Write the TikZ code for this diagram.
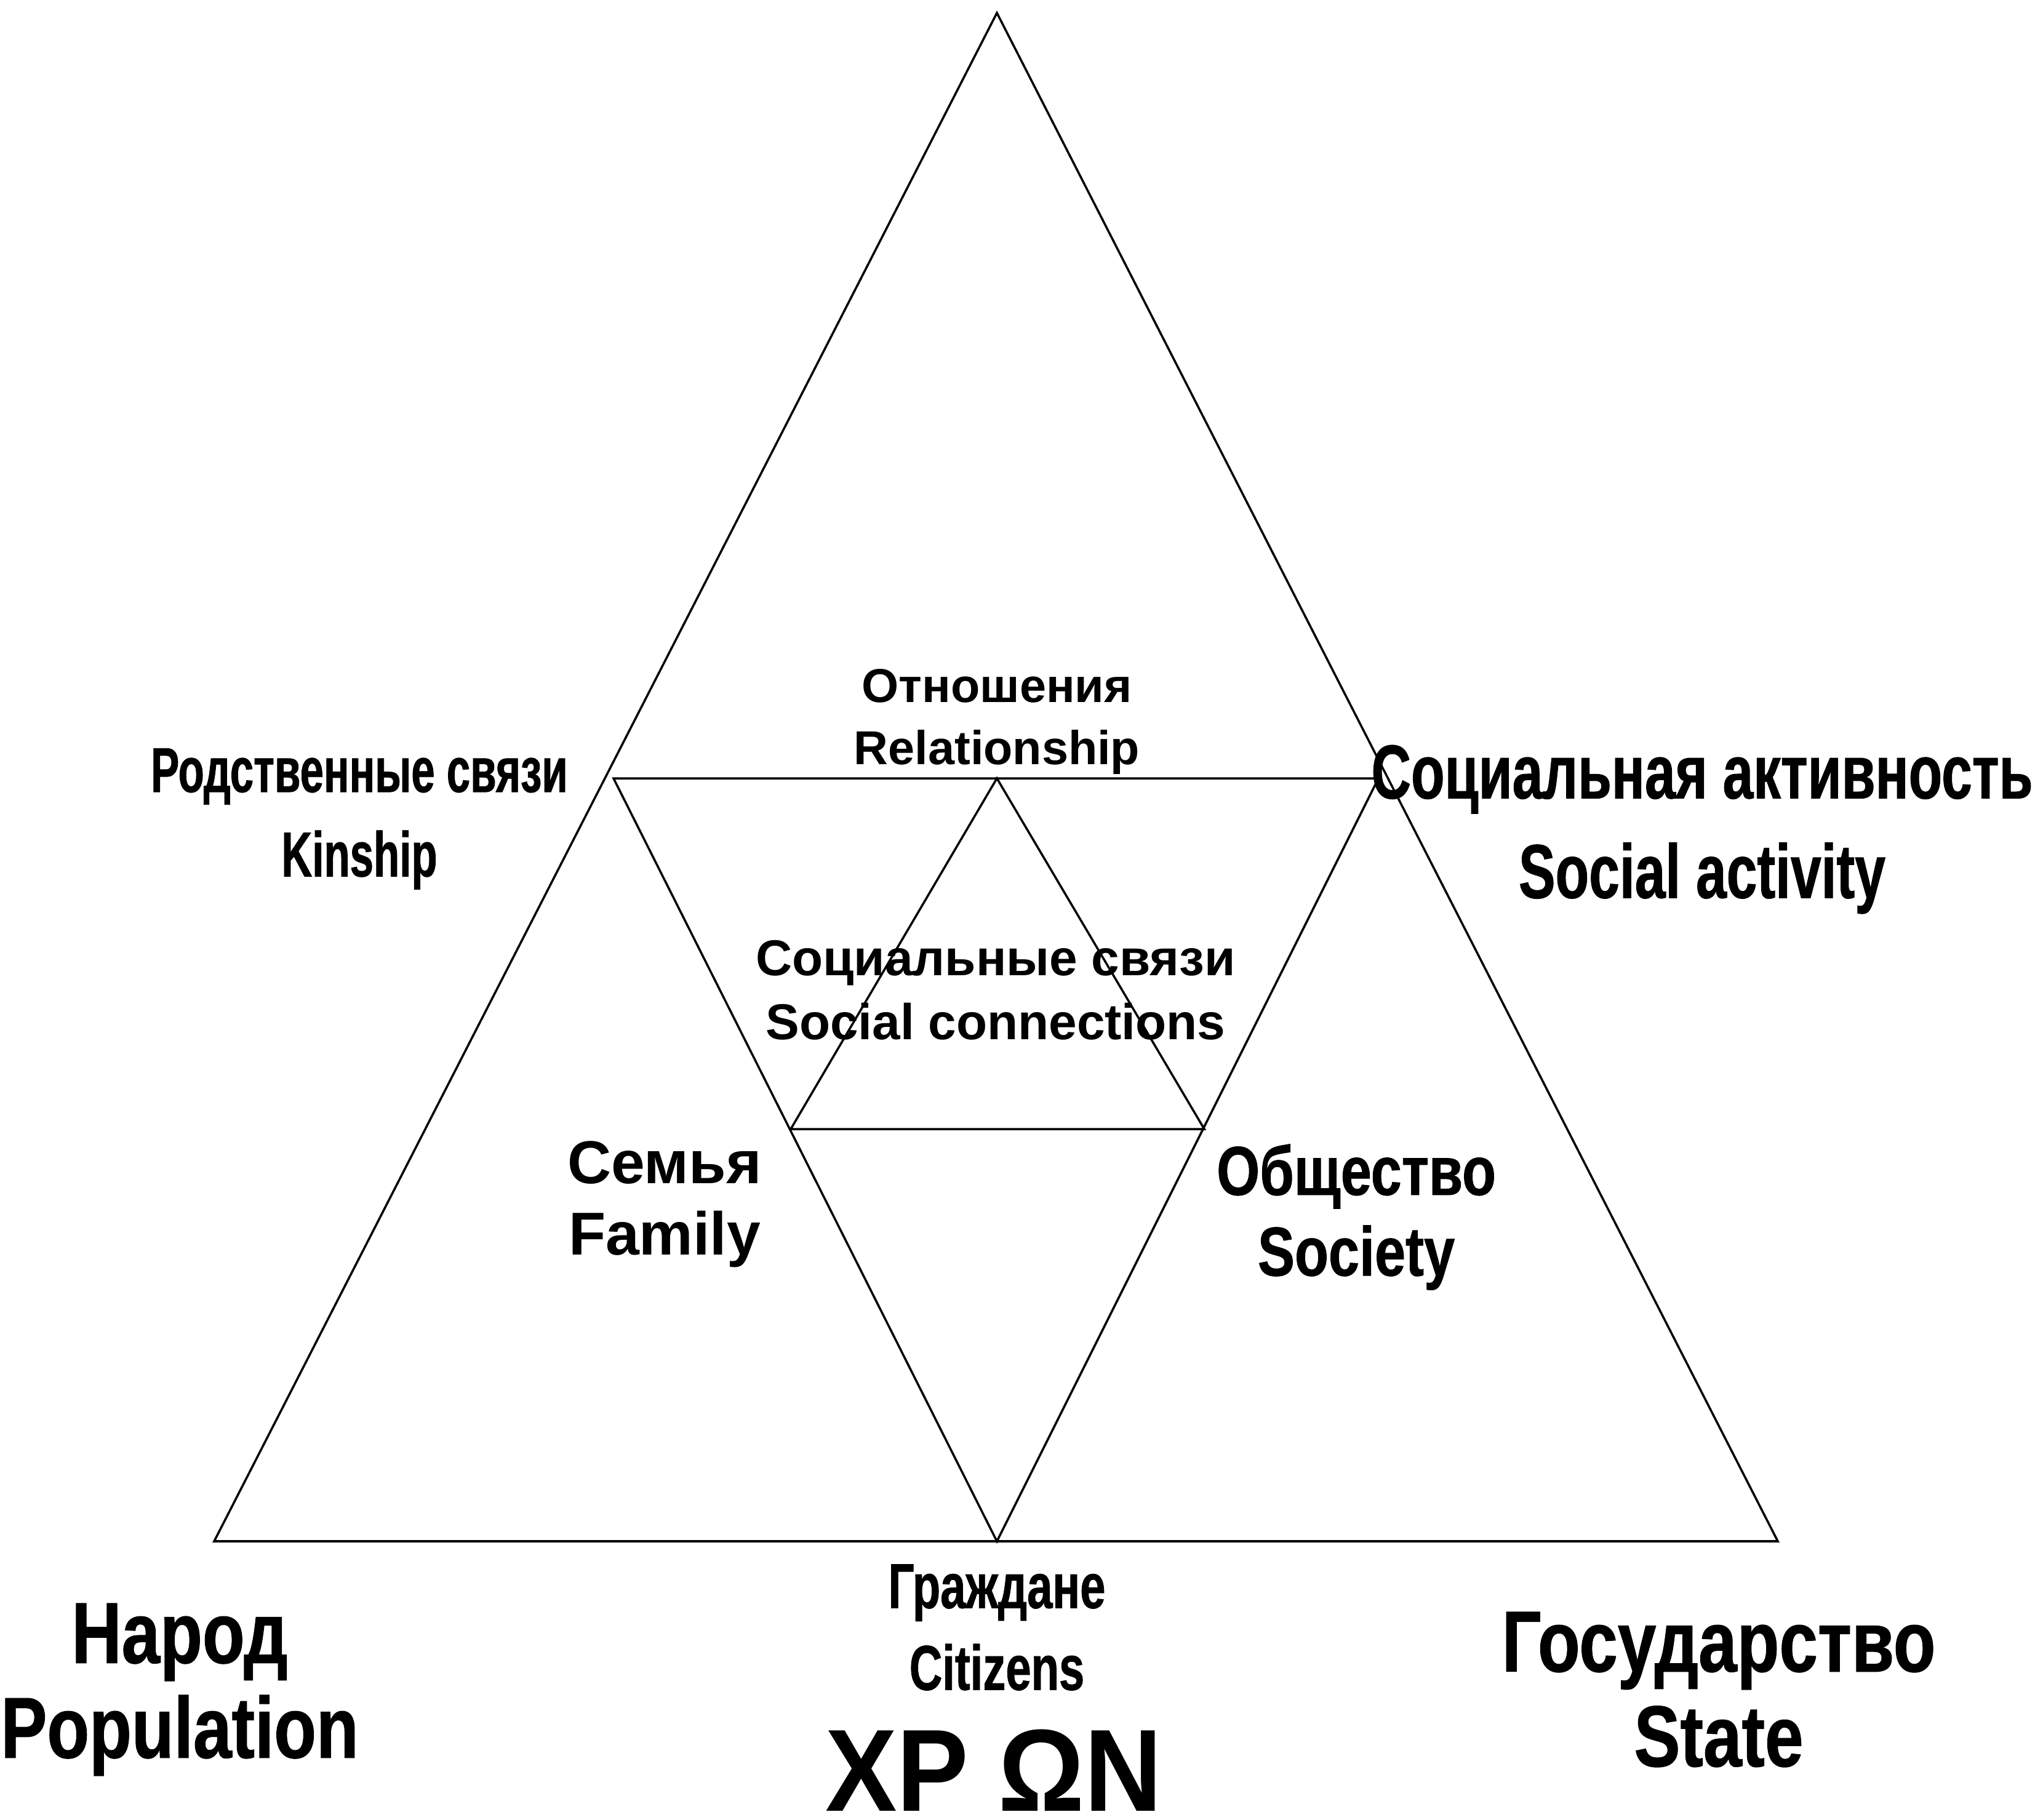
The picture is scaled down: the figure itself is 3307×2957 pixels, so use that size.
\documentclass[tikz,border=0pt]{standalone}
\usepackage{fontspec}
\setmainfont{Liberation Sans}
\newfontfamily\fsA[FakeStretch=0.67,FakeBold=0.8]{Liberation Sans}
\newfontfamily\fsCit[FakeStretch=0.72,FakeBold=0.8]{Liberation Sans}
\newfontfamily\fsB[FakeStretch=0.72,FakeBold=0.8]{Liberation Sans}
\newfontfamily\fsSoc[FakeStretch=0.8,FakeBold=0.8]{Liberation Sans}
\newfontfamily\fsC[FakeStretch=0.8,FakeBold=0.8]{Liberation Sans}
\newfontfamily\fsD[FakeStretch=0.92]{Liberation Sans}
\begin{document}
\begin{tikzpicture}[x=0.01cm,y=-0.01cm,
  edge/.style={line width=1pt,line join=miter},
  baseedge/.style={line width=1.3pt},
  lbl/.style={inner sep=0pt,align=center,text=black},
  bigtitle/.style={inner sep=0pt,text=black,text depth=0pt,anchor=base}]
\path[use as bounding box,fill=white] (0,0) rectangle (3307,2957);
% outer triangle
\coordinate (A) at (1620,21);
\coordinate (BL) at (348,2505);
\coordinate (BR) at (2889,2505);
% middle inverted triangle
\coordinate (ML) at (997,1265);
\coordinate (MR) at (2240,1265);
\coordinate (MB) at (1620,2505);
% inner triangle
\coordinate (IA) at (1620,1265);
\coordinate (IL) at (1285,1835);
\coordinate (IR) at (1957,1835);
\draw[edge] (A) -- (BL) -- (BR) -- cycle;
\draw[baseedge] (BL) -- (BR);
\draw[edge] (ML) -- (MR) -- (MB) -- cycle;
\draw[edge] (IA) -- (IL) -- (IR) -- cycle;
% labels
\node[lbl,font=\bfseries\fontsize{22}{28.5}\selectfont] (rel) at (1620,1173) {Отношения\\Relationship};
\node[lbl,font=\bfseries\fontsize{23.3}{29.6}\selectfont] (soc) at (1618,1609) {Социальные связи\\Social connections};
\node[lbl,font=\bfseries\fontsize{28}{33}\selectfont] (fam) at (1080,1957) {Семья\\Family};
\node[lbl,font=\fsA\bfseries\fontsize{29.3}{39}\selectfont] (kin) at (584,1331) {Родственные связи\\Kinship};
\node[lbl,font=\fsB\bfseries\fontsize{35.3}{46}\selectfont] (act) at (2766,1348) {Социальная активность\\Social activity};
\node[lbl,font=\fsSoc\bfseries\fontsize{32}{37.3}\selectfont] (soci) at (2204,1978) {Общество\\Society};
\node[lbl,font=\fsCit\bfseries\fontsize{29.3}{37.8}\selectfont] (cit) at (1620,2645) {Граждане\\Citizens};
\node[lbl,font=\fsC\bfseries\fontsize{40}{43.8}\selectfont] (pop) at (292,2746) {Народ\\Population};
\node[lbl,font=\fsC\bfseries\fontsize{40}{43.8}\selectfont] (state) at (2793,2746) {Государство\\State};
\node[bigtitle,font=\fsD\bfseries\fontsize{54}{60}\selectfont] (chron) at (1615,2943) {XP ΩN};
\end{tikzpicture}
\end{document}
